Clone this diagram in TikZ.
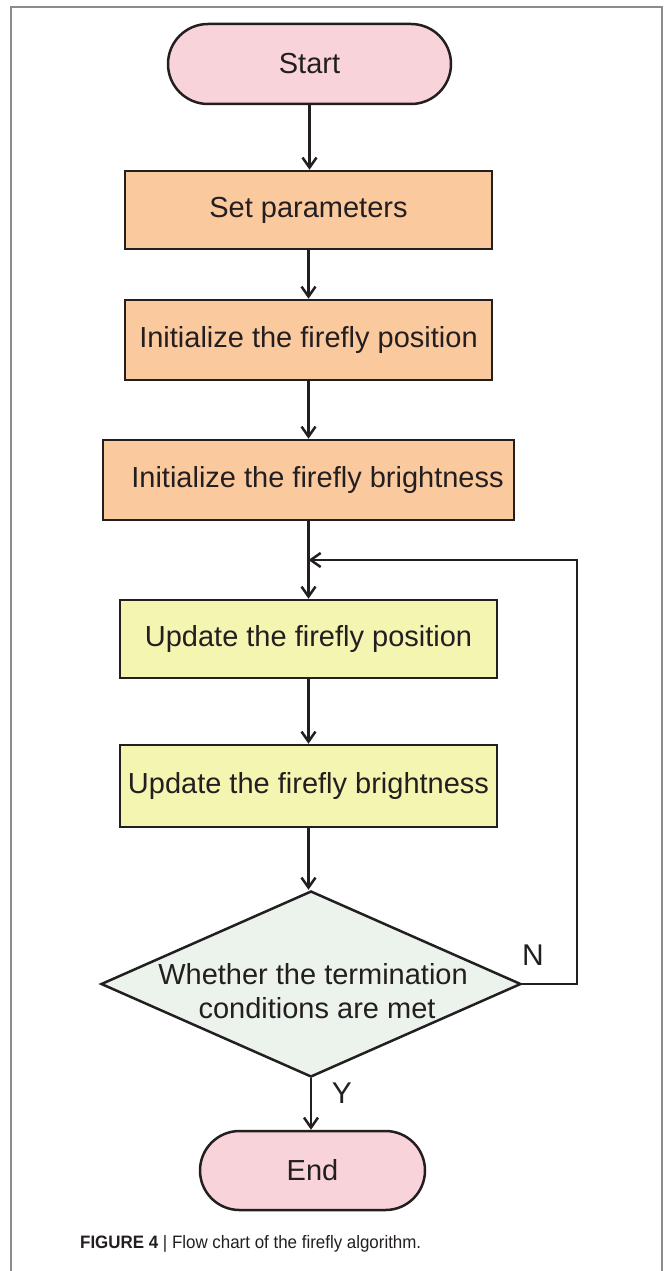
\documentclass[tikz,border=0pt]{standalone}
\usepackage{fontspec}
\setmainfont{Liberation Sans}
\newfontfamily\capfont[FakeStretch=0.94]{Liberation Sans}
\usetikzlibrary{shapes.misc,shapes.geometric,arrows.meta}
\definecolor{ink}{HTML}{231F20}
\definecolor{framegray}{HTML}{8C8C8C}
\definecolor{pinkfill}{HTML}{F9D3DA}
\definecolor{orangefill}{HTML}{FBC99E}
\definecolor{yellowfill}{HTML}{F5F5B2}
\definecolor{greenfill}{HTML}{EBF3EC}
\begin{document}
\begin{tikzpicture}[x=1pt,y=-1pt,
  every node/.style={text=ink},
  base/.style={draw=ink, line width=2.5pt, inner sep=0pt, font=\fontsize{29}{35}\selectfont},
  terminal/.style={base, rounded rectangle, fill=pinkfill},
  procbox/.style={base, rectangle, fill=orangefill},
  updbox/.style={base, rectangle, fill=yellowfill},
  decision/.style={base, diamond, fill=greenfill, minimum width=420pt, minimum height=186pt},
  conn/.style={draw=ink, line width=2.5pt, -{Straight Barb[length=10pt,width=14pt,line width=2.5pt]}},
  lbl/.style={font=\fontsize{30}{36}\selectfont, inner sep=0pt},
  txt/.style={font=\fontsize{29}{35}\selectfont, inner sep=0pt, align=center}
]
\useasboundingbox (0,0) rectangle (665,1271);
\draw[framegray, line width=2pt] (11,1271) -- (11,7) -- (662,7) -- (662,1271);

\node[terminal, minimum width=283pt, minimum height=80pt] (start) at (309.5,64) {Start};
\node[procbox, minimum width=367pt, minimum height=78pt] (setp) at (308.5,210) {Set parameters};
\node[procbox, minimum width=367pt, minimum height=80pt] (initpos) at (308.5,340) {Initialize the firefly position};
\node[procbox, minimum width=411pt, minimum height=80pt] (initbr) at (308.5,480) {};
\node[txt] (initbrtxt) at (317.5,480) {Initialize the firefly brightness};
\node[updbox, minimum width=377pt, minimum height=78pt] (updpos) at (308.5,639) {Update the firefly position};
\node[updbox, minimum width=377pt, minimum height=82pt] (updbr) at (308.5,786) {Update the firefly brightness};
\node[decision] (dec) at (311,984) {};
\node[txt] (dectxt) at (313,991) {Whether the termination\\[-0.5pt]\ conditions are met};
\node[terminal, minimum width=225pt, minimum height=79pt] (end) at (312.5,1170.5) {End};

\coordinate (join) at (initbr.south |- 0,560);
\coordinate (loopA) at (577,984);
\coordinate (loopB) at (577,560);

\draw[conn] (start.south) -- (start.south |- setp.north);
\draw[conn] (setp.south) -- (setp.south |- initpos.north);
\draw[conn] (initpos.south) -- (initpos.south |- initbr.north);
\draw[conn] (initbr.south) -- (initbr.south |- updpos.north);
\draw[conn] (updpos.south) -- (updpos.south |- updbr.north);
\draw[conn] (updbr.south) -- (updbr.south |- dec.north);
\draw[conn] (dec.south) -- (dec.south |- end.north);
\draw[conn] (dec.east) -- (loopA) -- (loopB) -- (join);

\node[lbl] (nlab) at (533,955) {N};
\node[lbl] (ylab) at (342,1093) {Y};

\node[anchor=base west, inner sep=0pt, font=\capfont\fontsize{18}{22}\selectfont] (cap) at (80,1248)
  {\textbf{FIGURE 4} | Flow chart of the firefly algorithm.};
\end{tikzpicture}
\end{document}
